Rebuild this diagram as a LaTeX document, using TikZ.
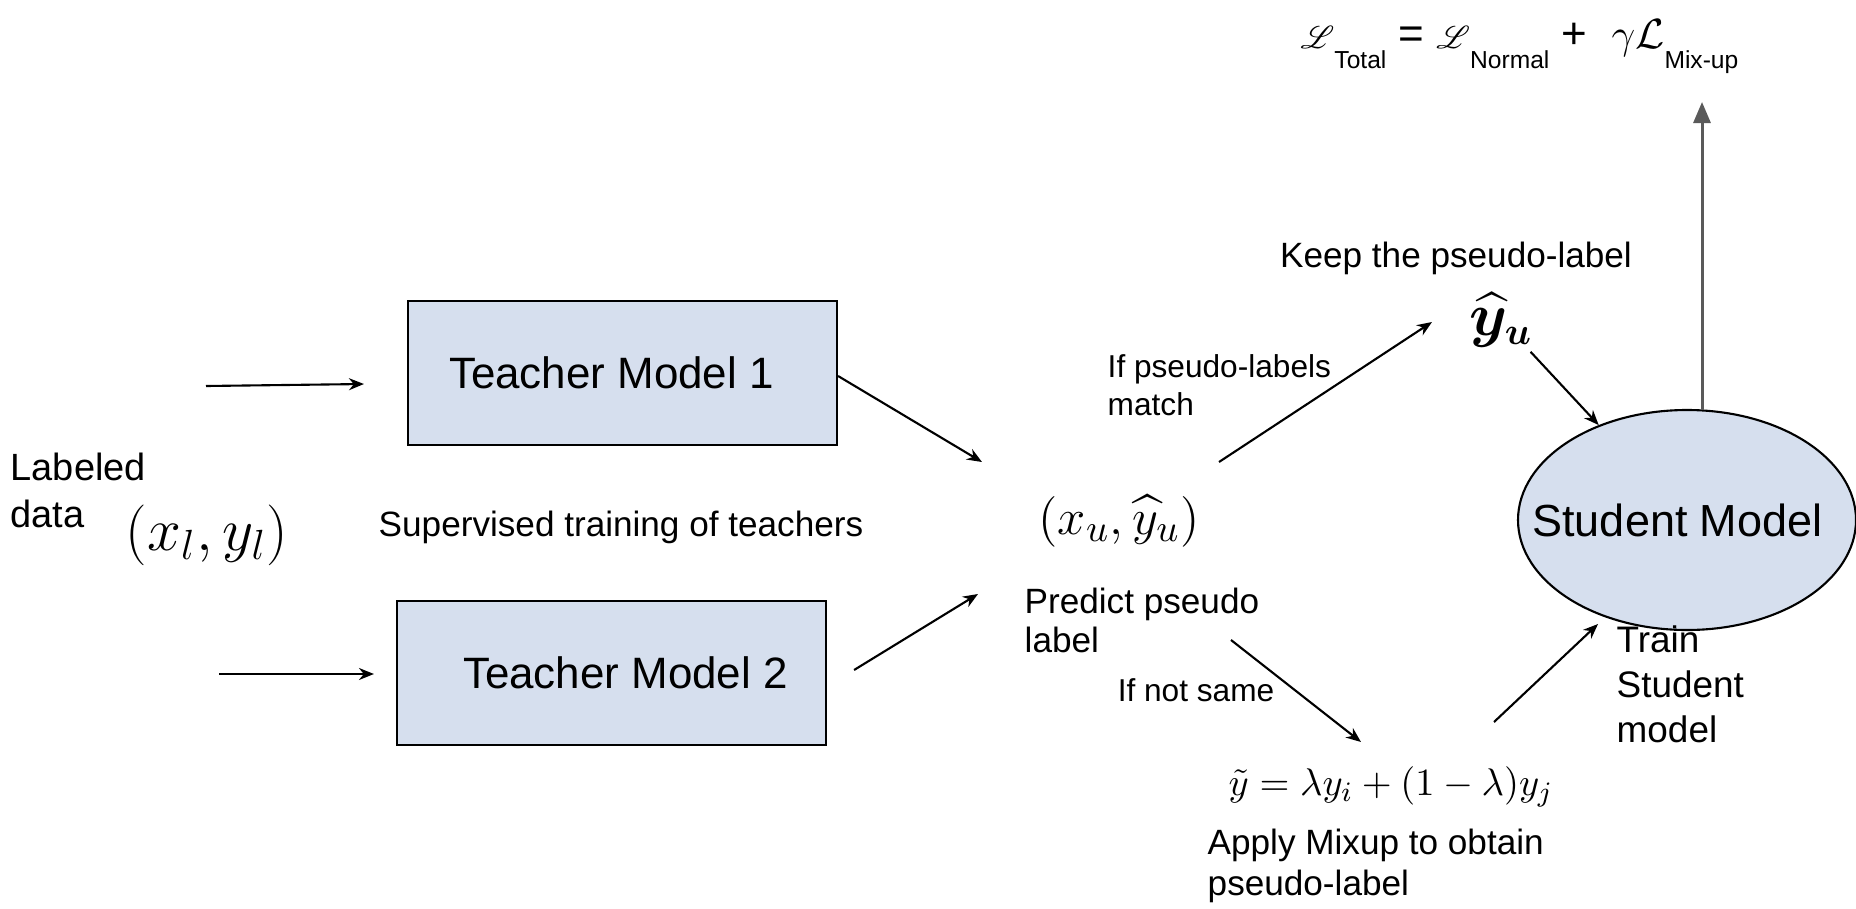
\documentclass[tikz,border=0pt]{standalone}
\usepackage{amsmath,amssymb}
\usepackage{mathrsfs}
\usepackage{fontspec}
\setmainfont{Liberation Sans}
\usepackage{tikz}
\definecolor{boxblue}{RGB}{214, 223, 238}
\definecolor{lossgray}{RGB}{90, 90, 90}
\usetikzlibrary{shapes,arrows.meta,positioning,calc}
\newcommand{\losssub}[1]{\raisebox{-2mm}{\fontsize{7}{8}\selectfont #1}}
\newcommand{\scriptL}{{\fontsize{9.5}{10}\selectfont$\mathscr{L}$}}

\begin{document}
\begin{tikzpicture}[
    model/.style={rectangle, draw, line width=0.6pt, fill=boxblue, minimum width=4.29cm, minimum height=1.44cm, font=\fontsize{12.5}{15}\selectfont},
    learner/.style={ellipse, draw, line width=0.6pt, fill=boxblue, minimum width=3.38cm, minimum height=2.2cm, inner sep=0pt, font=\fontsize{12.8}{15}\selectfont},
    note/.style={inner sep=0pt, align=left, font=\fontsize{10}{11}\selectfont},
    formula/.style={inner sep=1pt, font=\fontsize{15.5}{18}\selectfont},
    arrow/.style={-{Stealth[length=1.5mm, width=1.2mm]}, line width=0.6pt},
    uparrow/.style={-{Triangle[length=2.1mm, width=1.7mm]}, line width=0.85pt, draw=lossgray, color=lossgray}
]
    \useasboundingbox (0,0) rectangle (18.56,9.08);

    % Loss
    \node[inner sep=0pt, anchor=base west, font=\fontsize{12.5}{15}\selectfont] (loss) at (13.00,8.60)
        {\scriptL\losssub{Total} = \scriptL\losssub{Normal} + \ $\gamma\mathcal{L}$\losssub{Mix-up}};

    % Labeled data
    \node[note, anchor=west, font=\fontsize{10.8}{13.4}\selectfont] (labeled) at (0.10,4.18) {Labeled\\data};
    \node[formula, font=\fontsize{16.5}{19}\selectfont] (xl) at (2.07,3.73) {$(x_l, y_l)$};
    \coordinate (inone) at (2.06,5.22);
    \coordinate (intwo) at (2.19,2.34);

    % Teachers
    \node[model] (tone) at (6.225,5.35) {Teacher Model 1\hspace*{0.22cm}};
    \node[model] (ttwo) at (6.115,2.35) {\hspace*{0.28cm}Teacher Model 2};
    \node[note] (sup) at (6.21,3.81) {Supervised training of teachers};

    % Pseudo-labels
    \node[formula] (pair) at (11.19,3.87) {$(x_u, \widehat{y}_u)$};
    \node[note, anchor=west, font=\fontsize{10}{11.2}\selectfont] (predict) at (10.24,2.875) {Predict pseudo\\label};
    \coordinate (pinone) at (9.82,4.46);
    \coordinate (pintwo) at (9.78,3.14);

    % Matching branch
    \node[note, anchor=west, font=\fontsize{9}{10.8}\selectfont] (match) at (11.07,5.23) {If pseudo-labels\\match};
    \node[note] (keep) at (14.56,6.50) {Keep the pseudo-label};
    \node[formula, font=\fontsize{16}{18}\selectfont] (yhat) at (15.01,5.88) {$\boldsymbol{\widehat{y}_u}$};
    \coordinate (matchout) at (12.19,4.46);
    \coordinate (yin) at (14.32,5.86);

    % Mixup branch
    \node[note, font=\fontsize{9}{10}\selectfont] (notsame) at (11.96,2.18) {If not same};
    \node[inner sep=1pt, font=\fontsize{11.4}{13}\selectfont] (mix) at (13.91,1.21) {$\tilde{y} = \lambda y_i + (1-\lambda) y_j$};
    \node[note, anchor=west, font=\fontsize{10}{11.7}\selectfont] (apply) at (12.07,0.42) {Apply Mixup to obtain\\pseudo-label};
    \coordinate (splitout) at (12.31,2.68);
    \coordinate (mixin) at (13.61,1.66);
    \coordinate (mixout) at (14.94,1.86);
    \coordinate (trainin) at (15.98,2.84);

    % Student
    \node[learner] (student) at (16.87,3.88) {\makebox[0pt]{Student Model\hspace*{0.19cm}}};
    \node[note, anchor=west, font=\fontsize{10.5}{12.8}\selectfont] (train) at (16.16,2.24) {Train\\Student\\model};
    \coordinate (losstip) at (17.02,8.06);

    % Arrows
    \draw[arrow] (inone) -- ([xshift=-4.3mm, yshift=0.2mm]tone.west |- inone);
    \draw[arrow] (intwo) -- ([xshift=-2.2mm]ttwo.west |- intwo);
    \draw[arrow] ([yshift=-0.3mm]tone.east) -- (pinone);
    \draw[arrow] ([xshift=2.7mm, yshift=0.3mm]ttwo.east) -- (pintwo);
    \draw[arrow] (matchout) -- (yin);
    \draw[arrow] (yhat) -- (student);
    \draw[arrow] (splitout) -- (mixin);
    \draw[arrow] (mixout) -- (trainin);
    \draw[uparrow] (student.north -| losstip) -- (losstip);
\end{tikzpicture}
\end{document}
